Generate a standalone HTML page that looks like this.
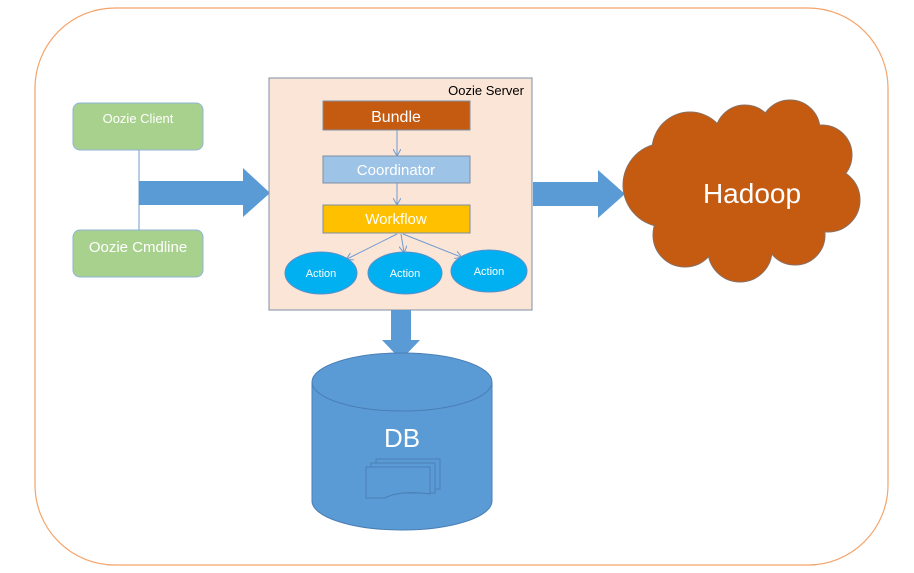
<!DOCTYPE html>
<html><head><meta charset="utf-8"><style>
html,body{margin:0;padding:0;background:#fff;}
svg{display:block;}
text{font-family:"Liberation Sans",sans-serif;}
</style></head><body>
<svg width="914" height="573" viewBox="0 0 914 573" xmlns="http://www.w3.org/2000/svg">
<defs>
<marker id="ah" markerWidth="8" markerHeight="8" refX="6" refY="4" orient="auto" markerUnits="userSpaceOnUse">
<path d="M0,0 L7,4 L0,8" fill="none" stroke="#6f9bd1" stroke-width="1"/>
</marker>
</defs>
<rect x="35" y="8" width="853" height="557" rx="80" ry="80" fill="#fff" stroke="#f4a46a" stroke-width="1.2"/>
<!-- clients -->
<line x1="139" y1="150" x2="139" y2="230" stroke="#6f9bd1" stroke-width="1"/>
<rect x="73" y="103" width="130" height="47" rx="7" fill="#a9d18e" stroke="#8fb3d6" stroke-width="1"/>
<text x="138" y="123" font-size="13" fill="#fff" text-anchor="middle">Oozie Client</text>
<rect x="73" y="230" width="130" height="47" rx="7" fill="#a9d18e" stroke="#8fb3d6" stroke-width="1"/>
<text x="138" y="252" font-size="15" fill="#fff" text-anchor="middle">Oozie Cmdline</text>
<!-- left arrow -->
<path d="M139,181 L243,181 L243,168 L270,193 L243,217 L243,205 L139,205 Z" fill="#5b9bd5"/>
<!-- server -->
<rect x="269" y="78" width="263" height="232" fill="#fbe5d6" stroke="#7f8fa6" stroke-width="1"/>
<text x="524" y="95" font-size="13" fill="#000" text-anchor="end">Oozie Server</text>
<rect x="323" y="101" width="147" height="29" fill="#c55a11" stroke="#7f8fa6" stroke-width="1"/>
<text x="396" y="122" font-size="16" fill="#fff" text-anchor="middle">Bundle</text>
<line x1="397" y1="130" x2="397" y2="155" stroke="#6f9bd1" marker-end="url(#ah)"/>
<rect x="323" y="156" width="147" height="27" fill="#9dc3e6" stroke="#7f8fa6" stroke-width="1"/>
<text x="396" y="175" font-size="15" fill="#fff" text-anchor="middle">Coordinator</text>
<line x1="397" y1="183" x2="397" y2="204" stroke="#6f9bd1" marker-end="url(#ah)"/>
<rect x="323" y="205" width="147" height="28" fill="#ffc000" stroke="#7f8fa6" stroke-width="1"/>
<text x="396" y="224" font-size="15" fill="#fff" text-anchor="middle">Workflow</text>
<line x1="397" y1="234" x2="347" y2="259" stroke="#6f9bd1" marker-end="url(#ah)"/>
<line x1="401" y1="234" x2="404" y2="252" stroke="#6f9bd1" marker-end="url(#ah)"/>
<line x1="403" y1="234" x2="461" y2="257" stroke="#6f9bd1" marker-end="url(#ah)"/>
<ellipse cx="321" cy="273" rx="36" ry="21" fill="#00b0f0" stroke="#5b8fc8"/>
<ellipse cx="405" cy="273" rx="37" ry="21" fill="#00b0f0" stroke="#5b8fc8"/>
<ellipse cx="489" cy="271" rx="38" ry="21" fill="#00b0f0" stroke="#5b8fc8"/>
<text x="321" y="277" font-size="11" fill="#fff" text-anchor="middle">Action</text>
<text x="405" y="277" font-size="11" fill="#fff" text-anchor="middle">Action</text>
<text x="489" y="275" font-size="11" fill="#fff" text-anchor="middle">Action</text>
<!-- right arrow -->
<path d="M533,182 L598,182 L598,170 L625,194 L598,218 L598,206 L533,206 Z" fill="#5b9bd5"/>
<!-- cloud -->
<g fill="#c55a11" stroke="#8a7060" stroke-width="1">
<circle cx="665" cy="185" r="42"/>
<circle cx="690" cy="150" r="38"/>
<circle cx="745" cy="135" r="30"/>
<circle cx="790" cy="130" r="30"/>
<circle cx="822" cy="155" r="30"/>
<circle cx="828" cy="200" r="32"/>
<circle cx="795" cy="235" r="30"/>
<circle cx="740" cy="250" r="32"/>
<circle cx="685" cy="235" r="32"/>
</g>
<g fill="#c55a11">
<circle cx="665" cy="185" r="41"/>
<circle cx="690" cy="150" r="37"/>
<circle cx="745" cy="135" r="29"/>
<circle cx="790" cy="130" r="29"/>
<circle cx="822" cy="155" r="29"/>
<circle cx="828" cy="200" r="31"/>
<circle cx="795" cy="235" r="29"/>
<circle cx="740" cy="250" r="31"/>
<circle cx="685" cy="235" r="31"/>
<ellipse cx="748" cy="192" rx="85" ry="60"/>
</g>
<text x="752" y="203" font-size="28" fill="#fff" text-anchor="middle">Hadoop</text>
<!-- down arrow -->
<path d="M391,310 L411,310 L411,340 L420,340 L401,360 L382,340 L391,340 Z" fill="#5b9bd5"/>
<!-- DB -->
<path d="M312,382 L312,501 A90,29 0 0 0 492,501 L492,382 Z" fill="#5b9bd5" stroke="#4a7fb5" stroke-width="1"/>
<ellipse cx="402" cy="382" rx="90" ry="29" fill="#5b9bd5" stroke="#4a7fb5" stroke-width="1"/>
<text x="402" y="447" font-size="26" fill="#fff" text-anchor="middle">DB</text>
<g fill="#5b9bd5" stroke="#4a7fb5" stroke-width="1">
<rect x="376" y="459" width="64" height="30"/>
<rect x="371" y="463" width="64" height="30"/>
<path d="M366,467 L430,467 L430,494 Q400,490 385,498 L366,498 Z"/>
</g>
</svg>
</body></html>
